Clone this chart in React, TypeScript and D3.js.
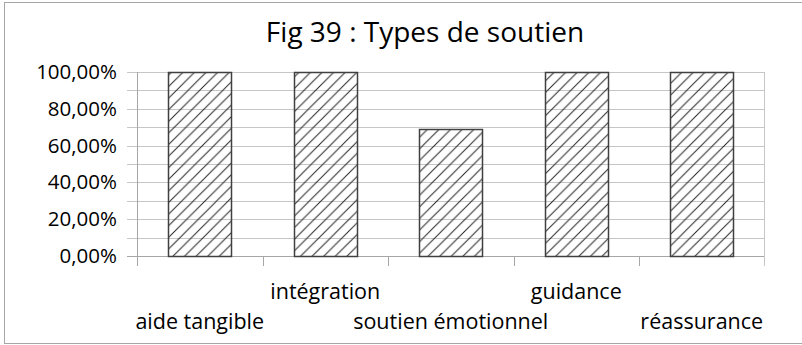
import React from "react";
import * as d3 from "d3";

const categories = ["aide tangible", "intégration", "soutien émotionnel", "guidance", "réassurance"];
const values = [1.0, 1.0, 0.6923, 1.0, 1.0];
const yTicks = [0, 0.2, 0.4, 0.6, 0.8, 1.0];
const yGrid = [0, 0.1, 0.2, 0.3, 0.4, 0.5, 0.6, 0.7, 0.8, 0.9, 1.0];
const title = "Fig 39 : Types de soutien";

const W = 802;
const H = 345;
const FONT = "'Open Sans', 'DejaVu Sans', sans-serif";

export default function App() {
  const plotLeft = 137;
  const plotRight = 764.5;
  const plotTop = 72;
  const plotBottom = 256;

  const x = d3.scaleBand<string>().domain(categories).range([plotLeft, plotRight]).paddingInner(0.5).paddingOuter(0.25);
  const xEdge = d3.scaleLinear().domain([0, categories.length]).range([plotLeft, plotRight]);
  const y = d3.scaleLinear().domain([0, 1]).range([plotBottom, plotTop]);
  const fmt = (v: number) => (v * 100).toFixed(2).replace(".", ",") + "%";

  const gridColor = "#c6c6c6";
  const axisColor = "#a6a6a6";

  return (
    <svg width={W} height={H} style={{ position: "absolute", left: 0, top: 0, background: "#fff" }}>
      <defs>
        <pattern id="hatch" patternUnits="userSpaceOnUse" width={11.6} height={11.6}>
          <path d="M-2,2 L2,-2 M0,11.6 L11.6,0 M9.6,13.6 L13.6,9.6" stroke="#222" strokeWidth={1} />
        </pattern>
      </defs>
      <rect x={4.5} y={2.5} width={900} height={341} fill="#fff" stroke={axisColor} strokeWidth={1} />
      <text x={425} y={42} textAnchor="middle" fontFamily={FONT} fontSize={28} fill="#000">
        {title}
      </text>
      {yGrid.map((v) => (
        <line key={"g" + v} x1={127} x2={plotRight} y1={Math.round(y(v)) + 0.5} y2={Math.round(y(v)) + 0.5} stroke={v === 0 ? axisColor : gridColor} strokeWidth={1} />
      ))}
      <line x1={plotLeft + 0.5} x2={plotLeft + 0.5} y1={plotTop} y2={266} stroke={axisColor} />
      <line x1={plotRight} x2={plotRight} y1={plotTop} y2={266} stroke={gridColor} />
      {d3.range(1, categories.length).map((i) => (
        <line key={"t" + i} x1={Math.round(xEdge(i)) + 0.5} x2={Math.round(xEdge(i)) + 0.5} y1={plotBottom} y2={266} stroke={axisColor} />
      ))}
      {yTicks.map((v) => (
        <text key={"yl" + v} x={117} y={y(v) + 7} textAnchor="end" fontFamily={FONT} fontSize={20.5} fill="#000">
          {fmt(v)}
        </text>
      ))}
      {categories.map((c, i) => (
        <rect
          key={c}
          x={Math.round(x(c)!) + 0.5}
          y={Math.round(y(values[i])) + 0.5}
          width={Math.round(x.bandwidth())}
          height={Math.round(plotBottom - y(values[i]))}
          fill="url(#hatch)"
          stroke="#404040"
          strokeWidth={1.5}
        />
      ))}
      {categories.map((c, i) => (
        <text
          key={"xl" + c}
          x={x(c)! + x.bandwidth() / 2}
          y={i % 2 === 0 ? 329 : 299}
          textAnchor="middle"
          fontFamily={FONT}
          fontSize={21.5}
          fill="#000"
        >
          {c}
        </text>
      ))}
    </svg>
  );
}
